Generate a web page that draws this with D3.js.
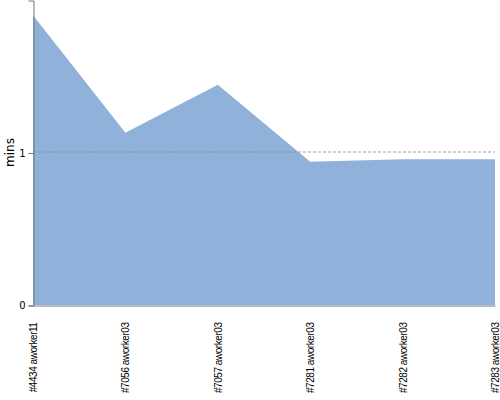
<!DOCTYPE html>
<html lang="en">
<head>
<meta charset="UTF-8">
<title>mins per job</title>
<script src="https://cdn.jsdelivr.net/npm/d3@7"></script>
<style>
    body { margin: 0; background: #fff; }
    .axis path, .axis line { stroke: #777; }
    .axis text { fill: #000; font-family: "DejaVu Sans", sans-serif; font-size: 10px; }
    .x-axis text { font-family: "Liberation Sans", sans-serif; font-size: 10px; letter-spacing: -0.45px; }
    .grid line { stroke: #888; stroke-dasharray: 3,2; stroke-width: 0.8; }
</style>
</head>
<body>
<div id="chart"></div>
<script>
    var jobs = ["#4434 aworker11", "#7056 aworker03", "#7057 aworker03",
                "#7281 aworker03", "#7282 aworker03", "#7283 aworker03"];
    var mins = [1.90, 1.13, 1.445, 0.94, 0.955, 0.955];
    var yTicks = [0, 1];

    var width = 500, height = 400;
    var margin = {top: 0, right: 5, bottom: 95, left: 33};

    var svg = d3.select("#chart").append("svg")
        .attr("width", width)
        .attr("height", height);

    var x = d3.scalePoint()
        .domain(jobs)
        .range([margin.left, width - margin.right]);

    var y = d3.scaleLinear()
        .domain([0, 2])
        .range([height - margin.bottom, margin.top]);

    var area = d3.area()
        .x(function(d, i) { return x(jobs[i]); })
        .y0(y(0))
        .y1(function(d) { return y(d); });

    svg.append("path")
        .datum(mins)
        .attr("fill", "#8fb1da")
        .attr("d", area);

    // dashed line at 1
    svg.append("g")
        .attr("class", "grid")
        .selectAll("line")
        .data(yTicks.filter(function(t) { return t > 0; }))
        .enter().append("line")
        .attr("x1", margin.left)
        .attr("x2", width - margin.right)
        .attr("y1", function(d) { return y(d) - 0.5; })
        .attr("y2", function(d) { return y(d) - 0.5; });

    svg.append("g")
        .attr("class", "axis y-axis")
        .attr("transform", "translate(" + (margin.left + 0.5) + ",0.5)")
        .call(d3.axisLeft(y).tickValues(yTicks).tickFormat(d3.format("d")).tickSizeOuter(0).tickSize(5));

    var xAxis = svg.append("g")
        .attr("class", "axis x-axis")
        .attr("transform", "translate(0," + (height - margin.bottom + 0.5) + ")")
        .call(d3.axisBottom(x).tickSize(0).tickSizeOuter(0));

    xAxis.selectAll("text")
        .attr("transform", "rotate(-90)")
        .attr("text-anchor", "end")
        .attr("x", -17)
        .attr("y", 0)
        .attr("dy", "0.35em");

    svg.append("text")
        .attr("transform", "translate(14," + y(1) + ") rotate(-90)")
        .attr("text-anchor", "middle")
        .style("font-family", "DejaVu Sans, sans-serif")
        .style("font-size", "12px")
        .text("mins");
</script>
</body>
</html>
